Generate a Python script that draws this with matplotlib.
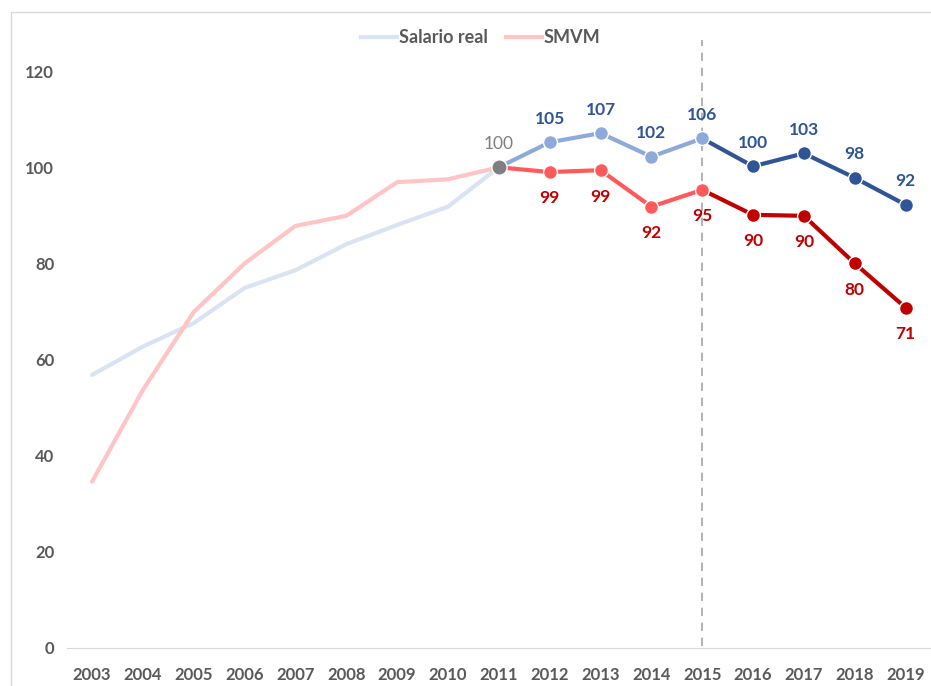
import numpy as np
import matplotlib.pyplot as plt
from matplotlib.patches import Rectangle

plt.rcParams['font.family'] = ['Lato', 'DejaVu Sans']

# Data (index, 2011 = 100)
years = list(range(2003, 2020))
salario = [56.8, 62.7, 67.6, 74.9, 78.6, 84.0, 88.0, 91.8, 100,
           105.2, 107.1, 102.2, 106.0, 100.2, 102.9, 97.8, 92.2]
smvm = [34.6, 53.7, 69.9, 80.0, 87.8, 89.9, 96.9, 97.5, 100,
        99.0, 99.4, 91.8, 95.3, 90.1, 89.9, 80.0, 70.8]
sal_labels = ['105', '107', '102', '106', '100', '103', '98', '92']
smvm_labels = ['99', '99', '92', '95', '90', '90', '80', '71']

fig = plt.figure(figsize=(9.31, 6.86), dpi=100)
ax = fig.add_axes([0.0716, 0.0554, 0.9284, 0.911])

# outer chart frame
fig.patches.append(Rectangle((11 / 931, -0.1), 2, 1.1 - 12 / 686, transform=fig.transFigure,
                             fill=False, edgecolor='#d9d9d9', linewidth=1))

yr = np.array(years)
sal = np.array(salario)
sm = np.array(smvm)
i11 = years.index(2011)
i15 = years.index(2015)

# early segments (faded)
ax.plot(yr[:i11 + 1], sal[:i11 + 1], color='#dae3f3', lw=3, solid_capstyle='round', zorder=2)
ax.plot(yr[:i11 + 1], sm[:i11 + 1], color='#ffc4c4', lw=3, solid_capstyle='round', zorder=2)

# 2011-2015
ax.plot(yr[i11:i15 + 1], sal[i11:i15 + 1], color='#8eaadb', lw=3, zorder=3)
ax.plot(yr[i11:i15 + 1], sm[i11:i15 + 1], color='#ff5a5a', lw=3, zorder=3)
# 2015-2019
ax.plot(yr[i15:], sal[i15:], color='#2f5597', lw=3, zorder=3)
ax.plot(yr[i15:], sm[i15:], color='#c00000', lw=3, zorder=3)

# markers
ax.plot(yr[i11 + 1:i15 + 1], sal[i11 + 1:i15 + 1], 'o', ms=10, color='#8eaadb', mec='white', mew=1, zorder=4)
ax.plot(yr[i11 + 1:i15 + 1], sm[i11 + 1:i15 + 1], 'o', ms=10, color='#ff5a5a', mec='white', mew=1, zorder=4)
ax.plot(yr[i15 + 1:], sal[i15 + 1:], 'o', ms=10, color='#2f5597', mec='white', mew=1, zorder=4)
ax.plot(yr[i15 + 1:], sm[i15 + 1:], 'o', ms=10, color='#c00000', mec='white', mew=1, zorder=4)
ax.plot([2011], [100], 'o', ms=11, color='#7f7f7f', mec='white', mew=1, zorder=5)

# data labels
ax.annotate('100', (2011, 100), xytext=(0, 17), textcoords='offset points', ha='center', va='center',
            fontsize=12.5, color='#7f7f7f')
for x, y, t in zip(yr[i11 + 1:], sal[i11 + 1:], sal_labels):
    ax.annotate(t, (x, y), xytext=(0, 17), textcoords='offset points', ha='center', va='center',
                fontsize=12.5, fontweight='bold', color='#2f5597')
for x, y, t in zip(yr[i11 + 1:], sm[i11 + 1:], smvm_labels):
    ax.annotate(t, (x, y), xytext=(0, -19), textcoords='offset points', ha='center', va='center',
                fontsize=12.5, fontweight='bold', color='#c00000')

# vertical dashed line at 2015
ax.plot([2015, 2015], [0.5, 126.5], color='#a6a6a6', lw=1.2, ls=(0, (5, 4)), zorder=1)

ax.set_xlim(2002.5, 2019.5)
ax.set_ylim(0, 130)
ax.set_xticks(years)
ax.set_xticklabels([str(y) for y in years])
ax.set_yticks(range(0, 121, 20))
ax.tick_params(length=0, labelsize=12, colors='#595959', pad=14)
ax.tick_params(axis='y', pad=9)
for lab in ax.get_xticklabels() + ax.get_yticklabels():
    lab.set_fontweight('bold')
for s in ['top', 'right', 'left']:
    ax.spines[s].set_visible(False)
ax.spines['bottom'].set_color('#d9d9d9')

h1, = ax.plot([], [], color='#dae3f3', lw=3)
h2, = ax.plot([], [], color='#ffc4c4', lw=3)
leg = ax.legend([h1, h2], ['Salario real', 'SMVM'], loc='center', bbox_to_anchor=(0.479, 0.977),
                ncol=2, frameon=False, handlelength=2.0, handletextpad=0.1, columnspacing=1.0,
                prop={'size': 13, 'weight': 'bold'})
for t in leg.get_texts():
    t.set_color('#595959')

fig.savefig('out.png', dpi=100)
